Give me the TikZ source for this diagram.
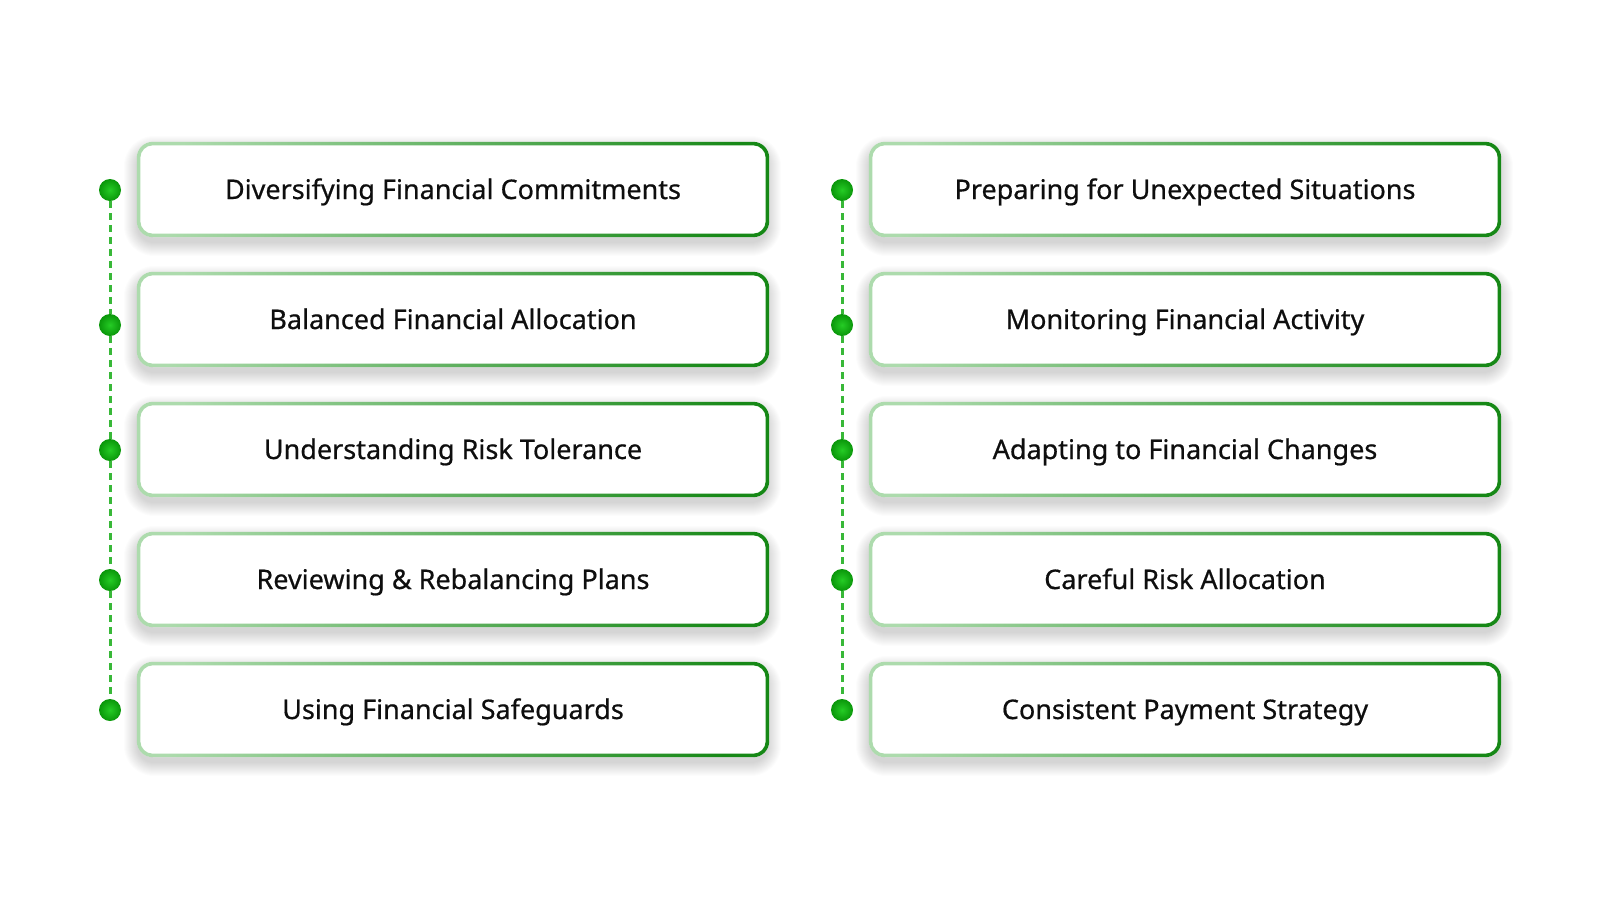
\documentclass[tikz,border=0pt]{standalone}
\usepackage{fontspec}
\setmainfont{Noto Sans}
\newfontfamily\lblfont{Noto Sans}[FakeBold=0.6]
\definecolor{gl}{HTML}{ADDBAD}
\definecolor{gd}{HTML}{168816}
\definecolor{dotin}{HTML}{25CC25}
\definecolor{dotout}{HTML}{0A960A}
\definecolor{dashc}{HTML}{38B838}
\definecolor{txt}{HTML}{0E0E0E}
\tikzset{
  boxn/.style={rectangle, fill=white, rounded corners=16pt, minimum width=632pt, minimum height=95pt,
    inner sep=0pt, text=txt, text height=19pt, text depth=0pt, font=\lblfont\fontsize{27}{31}\selectfont},
  shad/.style={fill=black, opacity=0.012},
  ring/.style={even odd rule, left color=gl, right color=gd, shading angle=80},
  dotn/.style={circle, minimum size=22pt, inner sep=0pt, inner color=dotin, outer color=dotout, shading=radial},
  dashl/.style={draw=dashc, line width=3pt, dash pattern=on 7pt off 5pt}
}
\begin{document}
\begin{tikzpicture}[x=1pt,y=-1pt]
\useasboundingbox[fill=white] (0,0) rectangle (1600,900);
\foreach \t/\cx/\dx [count=\i] in {
  Diversifying Financial Commitments/453/110,
  Balanced Financial Allocation/453/110,
  Understanding Risk Tolerance/453/110,
  Reviewing \& Rebalancing Plans/453/110,
  Using Financial Safeguards/453/110,
  Preparing for Unexpected Situations/1185/842,
  Monitoring Financial Activity/1185/842,
  Adapting to Financial Changes/1185/842,
  Careful Risk Allocation/1185/842,
  Consistent Payment Strategy/1185/842}{
  \pgfmathtruncatemacro\k{mod(\i-1,5)}
  \pgfmathsetmacro\yc{189.5+130*\k}
  \pgfmathsetmacro\yd{\k==1 ? 325 : 190+130*\k}
  \foreach \j in {1,...,14}{
    \fill[shad, rounded corners=16pt+\j pt] (\cx-316-\j+1,\yc-47.5-\j+8) rectangle (\cx+316+\j-2,\yc+47.5+\j+5);
  }
  \node[boxn] (B\i) at (\cx,\yc) {\t};
  \shade[ring] [rounded corners=16pt] (B\i.north west) rectangle (B\i.south east)
     [rounded corners=12.5pt] ([shift={(3.5,3.5)}]B\i.north west) rectangle ([shift={(-3.5,-3.5)}]B\i.south east);
  \node[dotn] (D\i) at (\dx,\yd) {};
}
\foreach \a/\b in {1/2,2/3,3/4,4/5,6/7,7/8,8/9,9/10}{
  \path[dashl] (D\a) -- (D\b);
}
\end{tikzpicture}
\end{document}
